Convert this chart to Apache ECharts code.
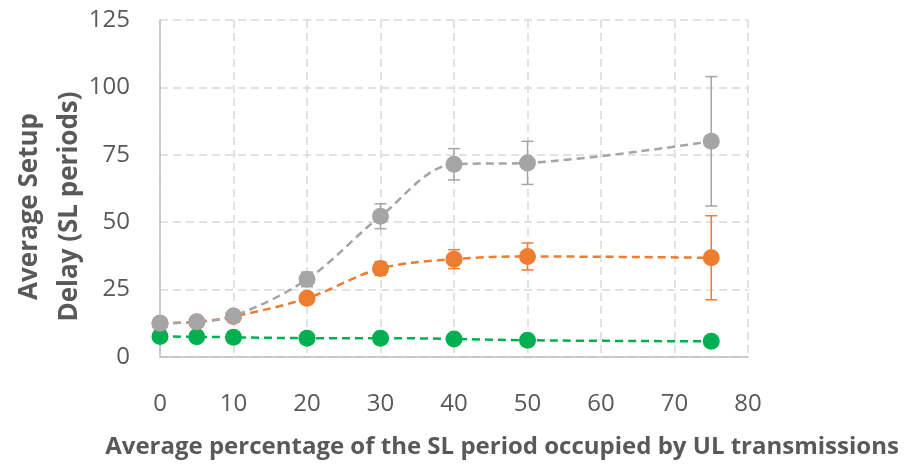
<!DOCTYPE html>
<html>
<head>
<meta charset="utf-8">
<script src="https://cdn.jsdelivr.net/npm/echarts@6/dist/echarts.min.js"></script>
<style>
  html, body { margin: 0; padding: 0; background: #fff; }
  #chart { width: 910px; height: 464px; }
</style>
</head>
<body>
<div id="chart"></div>
<script>
// x 值 (UL占用百分比)
var xValues = [0, 5, 10, 20, 30, 40, 50, 75];
// 三条曲线的均值
var grayData = [12.5, 13.1, 15.2, 28.8, 52.2, 71.5, 72, 80];
var orangeData = [12.5, 13, 15, 21.8, 32.8, 36.3, 37.3, 36.8];
var greenData = [7.6, 7.5, 7.3, 7, 7, 6.7, 6.2, 5.8];
// 误差 (±)
var grayErr = [0.5, 0.6, 0.8, 2.7, 4.6, 5.8, 8, 24];
var orangeErr = [0.4, 0.5, 0.6, 1.5, 2.5, 3.5, 5, 15.6];
var greenErr = [0, 0, 0, 0, 0, 0, 0, 0];
// 坐标轴刻度
var xTicks = [0, 80, 10];
var yTicks = [0, 125, 25];

var textColor = '#595959';

var pairs = function (ys) {
    return xValues.map(function (x, i) { return [x, ys[i]]; });
};

var errSeries = function (ys, errs, color) {
    return {
        type: 'custom',
        silent: true,
        z: 1,
        data: xValues.map(function (x, i) { return [x, ys[i] - errs[i], ys[i] + errs[i]]; }),
        renderItem: function (params, api) {
            var lo = api.coord([api.value(0), api.value(1)]);
            var hi = api.coord([api.value(0), api.value(2)]);
            var w = 6;
            var style = { stroke: color, lineWidth: 1.5 };
            return {
                type: 'group',
                children: [
                    { type: 'line', shape: { x1: lo[0], y1: lo[1], x2: hi[0], y2: hi[1] }, style: style },
                    { type: 'line', shape: { x1: lo[0] - w, y1: lo[1], x2: lo[0] + w, y2: lo[1] }, style: style },
                    { type: 'line', shape: { x1: hi[0] - w, y1: hi[1], x2: hi[0] + w, y2: hi[1] }, style: style }
                ]
            };
        }
    };
};

var lineSeries = function (ys, color, z) {
    return {
        type: 'line',
        data: pairs(ys),
        smooth: 0.35,
        symbol: 'circle',
        symbolSize: 17,
        z: z,
        itemStyle: { color: color },
        lineStyle: { color: color, width: 2.5, type: [8, 5] }
    };
};

var myChart = echarts.init(document.getElementById('chart'));
var option = {
    animation: false,
    grid: { left: 160, right: 162, top: 20, bottom: 107, outerBoundsMode: 'none', containLabel: false },
    xAxis: {
        type: 'value',
        min: xTicks[0],
        max: xTicks[1],
        interval: xTicks[2],
        name: 'Average percentage of the SL period occupied by UL transmissions',
        nameLocation: 'middle',
        nameGap: 78,
        nameMoveOverlap: false,
        nameTextStyle: { color: textColor, fontSize: 24, fontWeight: 'bold', fontFamily: 'Open Sans', padding: [0, 0, 0, 96] },
        axisLine: { lineStyle: { color: '#bfbfbf', width: 1.5 } },
        axisTick: { show: false },
        axisLabel: { color: textColor, fontSize: 24, margin: 35, fontFamily: 'Open Sans' },
        splitLine: { show: true, lineStyle: { color: '#d9d9d9', type: [8, 5], width: 1.5 } }
    },
    yAxis: {
        type: 'value',
        min: yTicks[0],
        max: yTicks[1],
        interval: yTicks[2],
        name: 'Average Setup\nDelay (SL periods)',
        nameLocation: 'middle',
        nameGap: 70,
        nameMoveOverlap: false,
        nameTextStyle: { color: textColor, fontSize: 26, fontWeight: 'bold', lineHeight: 40, fontFamily: 'Open Sans', padding: [0, 36, 0, 0] },
        axisLine: { show: true, lineStyle: { color: '#bfbfbf', width: 1.5 } },
        axisTick: { show: false },
        axisLabel: { color: textColor, fontSize: 24, margin: 30, fontFamily: 'Open Sans' },
        splitLine: { show: true, lineStyle: { color: '#d9d9d9', type: [8, 5], width: 1.5 } }
    },
    series: [
        errSeries(greenData, greenErr, '#00B050'),
        errSeries(orangeData, orangeErr, '#ED7D31'),
        errSeries(grayData, grayErr, '#A5A5A5'),
        lineSeries(greenData, '#00B050', 2),
        lineSeries(orangeData, '#ED7D31', 3),
        lineSeries(grayData, '#A5A5A5', 4)
    ]
};
myChart.setOption(option);
</script>
</body>
</html>
